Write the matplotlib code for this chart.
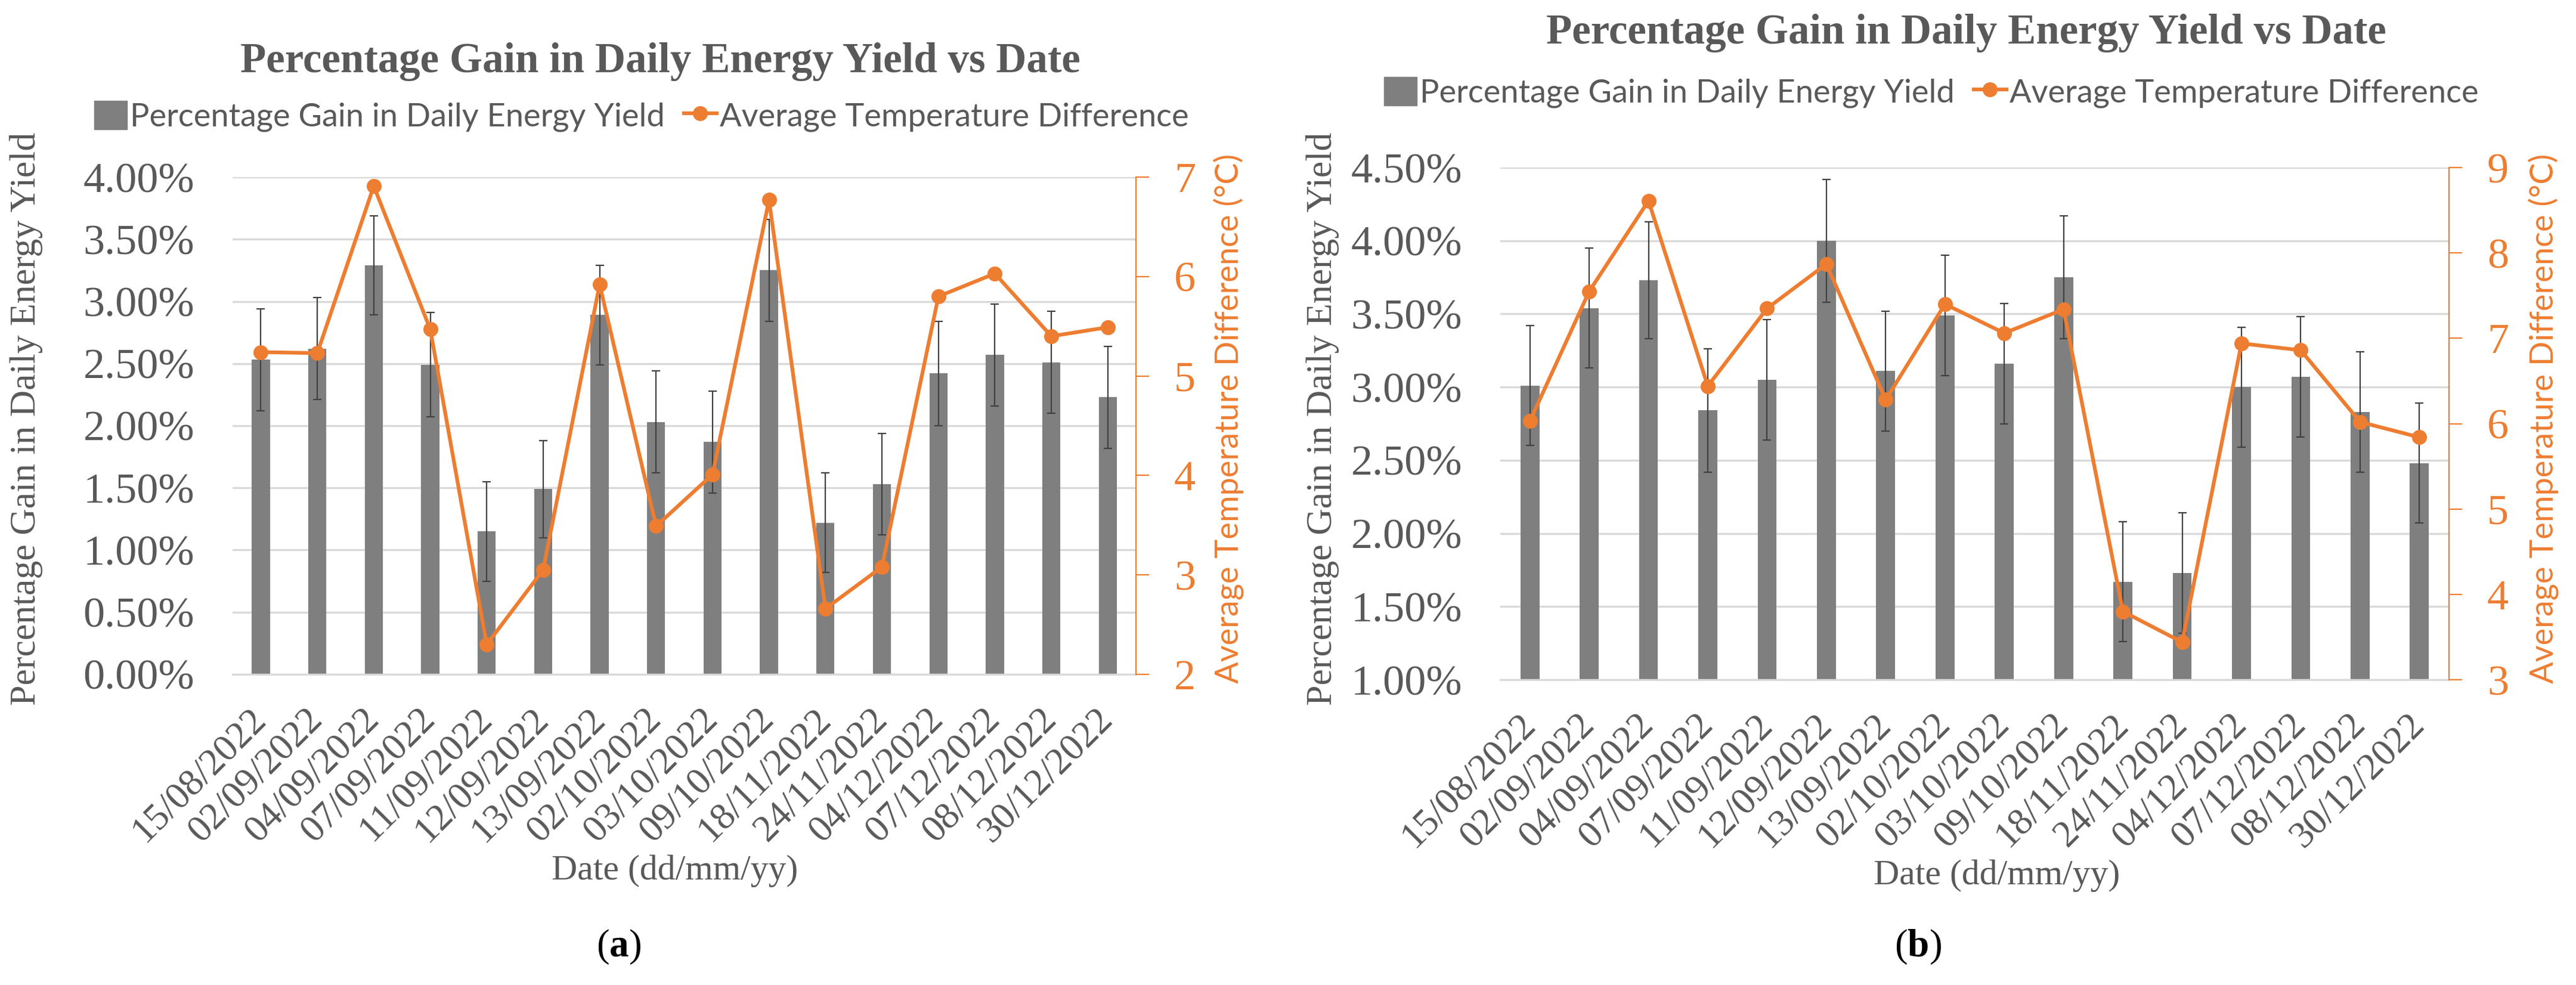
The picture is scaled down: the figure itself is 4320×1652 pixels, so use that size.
import matplotlib
matplotlib.use("Agg")
import matplotlib.pyplot as plt
from matplotlib.patches import Patch
from matplotlib.lines import Line2D
from matplotlib.ticker import FuncFormatter

dates = ["15/08/2022", "02/09/2022", "04/09/2022", "07/09/2022", "11/09/2022",
         "12/09/2022", "13/09/2022", "02/10/2022", "03/10/2022", "09/10/2022",
         "18/11/2022", "24/11/2022", "04/12/2022", "07/12/2022", "08/12/2022",
         "30/12/2022"]

# panel (a)
gain_a = [2.53, 2.62, 3.29, 2.49, 1.15, 1.49, 2.89, 2.03, 1.87, 3.25,
          1.22, 1.53, 2.42, 2.57, 2.51, 2.23]
err_a = [0.41, 0.41, 0.40, 0.42, 0.40, 0.39, 0.40, 0.41, 0.41, 0.41,
         0.40, 0.41, 0.42, 0.41, 0.41, 0.41]
temp_a = [5.24, 5.23, 6.91, 5.47, 2.30, 3.05, 5.92, 3.49, 4.01, 6.77,
          2.66, 3.08, 5.80, 6.03, 5.40, 5.49]

# panel (b)
gain_b = [3.01, 3.54, 3.73, 2.84, 3.05, 4.00, 3.11, 3.49, 3.16, 3.75,
          1.67, 1.73, 3.00, 3.07, 2.83, 2.48]
err_b = [0.41, 0.41, 0.40, 0.42, 0.41, 0.42, 0.41, 0.41, 0.41, 0.42,
         0.41, 0.41, 0.41, 0.41, 0.41, 0.41]
temp_b = [6.03, 7.55, 8.61, 6.44, 7.35, 7.87, 6.28, 7.40, 7.06, 7.34,
          3.80, 3.44, 6.94, 6.86, 6.02, 5.84]

SERIF = "Liberation Serif"
SANS = "Lato"
GRAY_TXT = "#595959"
BAR = "#7f7f7f"
ORANGE = "#ed7d31"
GRID = "#d9d9d9"

plt.rcParams["mathtext.fontset"] = "custom"
plt.rcParams["mathtext.rm"] = SERIF
plt.rcParams["mathtext.bf"] = SERIF + ":bold"

fig = plt.figure(figsize=(43.2, 16.52), dpi=100)


def panel(rect, gain, err, temp, ylim, yticks, tlim, tticks, title_xy, leg_xy,
          ylab_x, rlab_x, xlab_xy, tag, tag_xy):
    ax = fig.add_axes(rect)
    x = list(range(len(dates)))
    ax.bar(x, gain, width=0.32, color=BAR, zorder=2,
           yerr=err, error_kw=dict(ecolor="#404040", elinewidth=1.6,
                                   capsize=5, capthick=1.6, zorder=3))
    ax.set_xlim(-0.5, len(dates) - 0.5)
    ax.set_ylim(*ylim)
    ax.set_yticks(yticks)
    ax.yaxis.set_major_formatter(FuncFormatter(lambda v, p: f"{v:.2f}%"))
    ax.grid(axis="y", color=GRID, linewidth=2.4, zorder=0)
    ax.set_axisbelow(True)
    for s in ["top", "right", "left"]:
        ax.spines[s].set_visible(False)
    ax.spines["bottom"].set_color(GRID)
    ax.spines["bottom"].set_linewidth(2.4)
    ax.tick_params(axis="y", length=0, pad=46, labelsize=52, labelcolor=GRAY_TXT)
    ax.set_xticks(x)
    ax.set_xticklabels(dates, rotation=45, ha="right", va="center",
                       rotation_mode="anchor", fontsize=46, color=GRAY_TXT,
                       family=SERIF)
    ax.tick_params(axis="x", length=0, pad=48)
    for lab in ax.get_yticklabels():
        lab.set_family(SERIF)

    ax2 = ax.twinx()
    ax2.plot(x, temp, color=ORANGE, linewidth=4.5, marker="o", markersize=17,
             zorder=4)
    ax2.set_ylim(*tlim)
    ax2.set_yticks(tticks)
    for s in ["top", "left", "bottom"]:
        ax2.spines[s].set_visible(False)
    ax2.spines["right"].set_color(ORANGE)
    ax2.spines["right"].set_linewidth(1.6)
    ax2.spines["right"].set_bounds(tlim[0], tlim[1])
    ax2.tick_params(axis="y", colors=ORANGE, length=16, width=1.6, pad=30,
                    labelsize=52)
    for lab in ax2.get_yticklabels():
        lab.set_family(SERIF)

    fig.text(title_xy[0], title_xy[1], "Percentage Gain in Daily Energy Yield vs Date",
             ha="center", va="center", fontsize=51, fontweight="bold",
             family=SERIF, color=GRAY_TXT)
    handles = [Patch(facecolor=BAR, edgecolor=BAR),
               Line2D([0], [0], color=ORANGE, linewidth=4.5, marker="o",
                      markersize=17)]
    fig.legend(handles, ["Percentage Gain in Daily Energy Yield",
                         "Average Temperature Difference"],
               loc="center", bbox_to_anchor=leg_xy, ncol=2, frameon=False,
               prop=dict(family=SANS, size=39), labelcolor=GRAY_TXT,
               handlelength=1.0, handleheight=1.0, handletextpad=0.1,
               columnspacing=0.6)
    fig.text(ylab_x, 0.575, "Percentage Gain in Daily Energy Yield",
             rotation=90, ha="center", va="center", fontsize=44.5,
             family=SERIF, color=GRAY_TXT)
    fig.text(rlab_x, 0.575, "Average Temperature Difference (°C)",
             rotation=90, ha="center", va="center", fontsize=39,
             family=SANS, color=ORANGE)
    fig.text(xlab_xy[0], xlab_xy[1], "Date (dd/mm/yy)", ha="center",
             va="center", fontsize=43, family=SERIF, color=GRAY_TXT)
    fig.text(tag_xy[0], tag_xy[1], r"($\mathbf{" + tag + r"}$)", ha="center",
             va="center", fontsize=47, family=SERIF, color="black")


panel([0.0903, 0.3154, 0.3507, 0.5048], gain_a, err_a, temp_a,
      (0, 4.0), [0, 0.5, 1.0, 1.5, 2.0, 2.5, 3.0, 3.5, 4.0],
      (2, 7), [2, 3, 4, 5, 6, 7],
      (1107 / 4320, 1 - 103 / 1652), (1076 / 4320, 1 - 195 / 1652),
      44 / 4320, 2060 / 4320, (1132 / 4320, 1 - 1461 / 1652),
      "a", (1038 / 4320, 1 - 1588 / 1652))

panel([0.5824, 0.3099, 0.3683, 0.5200], gain_b, err_b, temp_b,
      (1.0, 4.5), [1.0, 1.5, 2.0, 2.5, 3.0, 3.5, 4.0, 4.5],
      (3, 9), [3, 4, 5, 6, 7, 8, 9],
      (3297 / 4320, 1 - 56 / 1652), (3239 / 4320, 1 - 155 / 1652),
      2218 / 4320, 4265 / 4320, (3349 / 4320, 1 - 1469 / 1652),
      "b", (3216 / 4320, 1 - 1588 / 1652))

fig.savefig("out.png", dpi=100, facecolor="white")
